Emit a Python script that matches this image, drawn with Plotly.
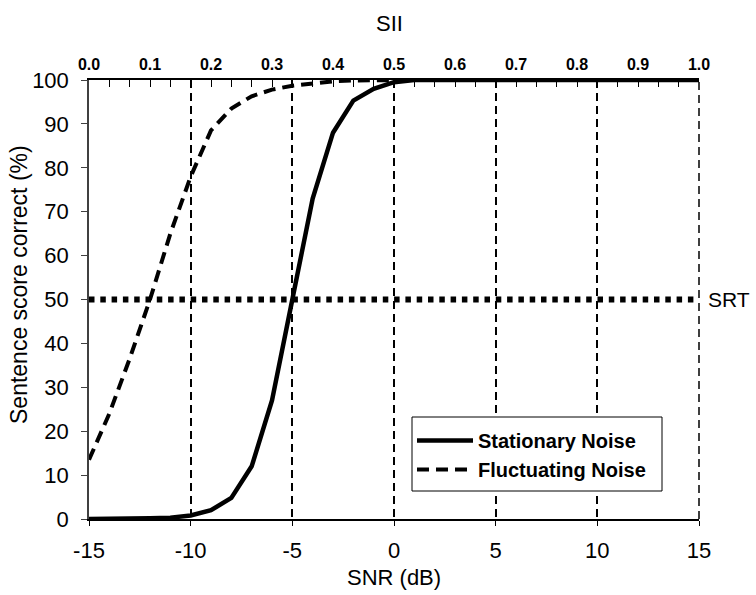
import plotly.graph_objects as go

snr = list(range(-15, 16))
stationary = [0.0, 0.0, 0.05, 0.15, 0.3, 0.8, 2.0, 4.8, 12.0, 27.0, 50.0, 73.0, 88.0, 95.3, 98.0, 99.5,
              100, 100, 100, 100, 100, 100, 100, 100, 100, 100, 100, 100, 100, 100, 100]
fluctuating = [13.5, 24.0, 36.5, 50.0, 65.0, 78.0, 88.5, 93.5, 96.3, 97.8, 98.7, 99.3, 99.7, 99.9, 100,
               100, 100, 100, 100, 100, 100, 100, 100, 100, 100, 100, 100, 100, 100, 100, 100]
bottom_ticks = [-15, -10, -5, 0, 5, 10, 15]
sii_vals = [-15, -12, -9, -6, -3, 0, 3, 6, 9, 12, 15]
sii_labels = ["0.0", "0.1", "0.2", "0.3", "0.4", "0.5", "0.6", "0.7", "0.8", "0.9", "1.0"]
y_ticks = list(range(0, 101, 10))
srt_level = 50

FONT = "Liberation Sans, Arial, sans-serif"
W, H = 756, 595
L, R, T, B = 89, 57, 80, 76
PW, PH = W - L - R, H - T - B


def px_x(p):
    return (p - L) / PW


def px_y(p):
    return (H - B - p) / PH


fig = go.Figure()
fig.add_trace(go.Scatter(x=snr, y=stationary, mode="lines", name="Stationary Noise",
                         line=dict(color="black", width=4.5)))
fig.add_trace(go.Scatter(x=snr, y=fluctuating, mode="lines", name="Fluctuating Noise",
                         line=dict(color="black", width=4, dash="12px,7px")))
fig.add_trace(go.Scatter(x=[snr[0], snr[-1]], y=[0, 0], xaxis="x2", mode="lines",
                         line=dict(width=0), showlegend=False, hoverinfo="skip"))

# right edge dashed line (plotly skips the edge grid line); paper ref so it is not clipped
fig.add_shape(type="line", xref="paper", yref="y", x0=1, x1=1,
              y0=y_ticks[0], y1=y_ticks[-1], line=dict(color="black", width=1.5, dash="8px,5px"),
              layer="above")
# SRT dotted line
fig.add_shape(type="line", xref="x", yref="y", x0=snr[0], x1=snr[-1], y0=srt_level, y1=srt_level,
              line=dict(color="black", width=6, dash="5.5px,5.8px"))
# legend box (white filled, covers grid lines)
fig.add_shape(type="rect", xref="paper", yref="paper", x0=px_x(412), x1=px_x(662),
              y0=px_y(491), y1=px_y(417), line=dict(color="black", width=1),
              fillcolor="white", layer="above")

fig.add_annotation(x=1.0, xref="paper", xanchor="left", y=srt_level, yref="y", text="SRT",
                   showarrow=False, xshift=7, font=dict(family=FONT, size=21, color="black"))
fig.add_annotation(x=px_x(389), xref="paper", y=1 + (T - 24) / PH, yref="paper", text="SII",
                   showarrow=False, xanchor="center", yanchor="middle",
                   font=dict(family=FONT, size=22, color="black"))
fig.add_annotation(x=px_x(394), xref="paper", y=px_y(577), yref="paper", text="SNR (dB)",
                   showarrow=False, xanchor="center", yanchor="middle",
                   font=dict(family=FONT, size=22, color="black"))
fig.add_annotation(x=px_x(19), xref="paper", y=px_y(285), yref="paper",
                   text="Sentence score correct (%)", textangle=-90,
                   showarrow=False, xanchor="center", yanchor="middle",
                   font=dict(family=FONT, size=23, color="black"))

top_ticktext = [sii_labels[sii_vals.index(v)] if v in sii_vals else "" for v in snr]

fig.update_layout(
    width=W, height=H,
    margin=dict(l=L, r=R, t=T, b=B),
    paper_bgcolor="white", plot_bgcolor="white",
    font=dict(family=FONT, size=22, color="black"),
    xaxis=dict(range=[-15, 15], tickvals=bottom_ticks, ticktext=[str(v) for v in bottom_ticks],
               ticks="outside", ticklen=5, tickcolor="black", ticklabelstandoff=6,
               showline=True, linecolor="black", linewidth=1.5, zeroline=False,
               showgrid=True, gridcolor="black", gridwidth=1.5, griddash="8px,5px",
               tickfont=dict(size=22)),
    xaxis2=dict(range=[-15, 15], overlaying="x", side="top", tickvals=snr, ticktext=top_ticktext,
                ticks="inside", ticklen=7, tickcolor="black", showline=True, linecolor="black",
                linewidth=1.5, showgrid=False, zeroline=False, ticklabelstandoff=2, tickangle=0,
                tickfont=dict(family=FONT, size=16, color="black", weight="bold")),
    yaxis=dict(range=[0, 100], tickvals=y_ticks, ticks="outside", ticklen=6, tickcolor="#404040",
               showline=True, linecolor="#404040", linewidth=1.5, showgrid=False, zeroline=False,
               ticklabelstandoff=8, tickfont=dict(size=22)),
    legend=dict(x=px_x(412), y=px_y(421), xanchor="left", yanchor="top",
                borderwidth=0, bgcolor="rgba(0,0,0,0)",
                font=dict(family=FONT, size=20, color="black", weight="bold"),
                itemwidth=56, tracegroupgap=0),
    showlegend=True,
)

fig.write_html("out.html")
